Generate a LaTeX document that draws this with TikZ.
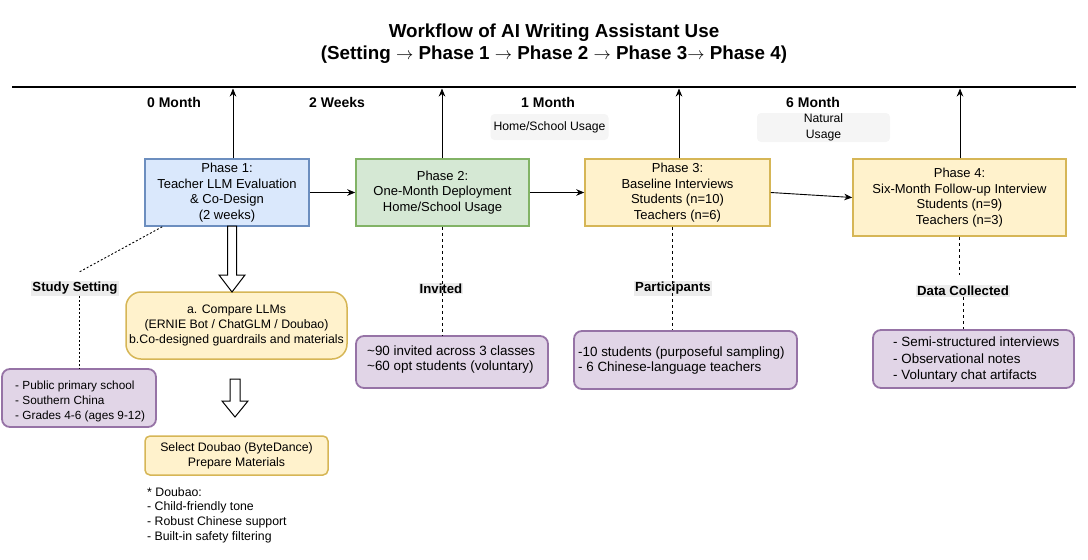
\documentclass[tikz,border=0pt]{standalone}
\usepackage{fontspec}
\setmainfont{Liberation Sans}
\usetikzlibrary{arrows.meta,calc}

\definecolor{bluef}{HTML}{DAE8FC}\definecolor{blued}{HTML}{6C8EBF}
\definecolor{greenf}{HTML}{D5E8D4}\definecolor{greend}{HTML}{82B366}
\definecolor{yelf}{HTML}{FFF2CC}\definecolor{yeld}{HTML}{D6B656}
\definecolor{purf}{HTML}{E1D5E7}\definecolor{purd}{HTML}{9673A6}
\definecolor{greyf}{HTML}{F5F5F5}\definecolor{lblf}{HTML}{ECECEC}

\newcommand\fs[2]{\fontsize{#1}{#2}\selectfont}
\newcommand\ra{\ensuremath{\rightarrow}}

\begin{document}
\begin{tikzpicture}[x=1pt,y=-1pt,
  phase/.style={draw, line width=1.5pt, inner sep=0pt, align=center, font=\fs{13}{15.5}},
  ybox/.style={draw=yeld, fill=yelf, line width=1.5pt, inner sep=0pt, align=center, font=\fs{12.3}{14.7}},
  pbox/.style={draw=purd, fill=purf, line width=1.8pt, rounded corners=8pt, inner sep=0pt},
  ptext/.style={anchor=west, inner sep=0pt, align=left, font=\fs{11.8}{15}},
  bigtext/.style={anchor=west, inner sep=0pt, align=left, font=\fs{13.4}{15.5}},
  tlabel/.style={inner sep=0pt, font=\fs{14}{16}\bfseries},
  glabel/.style={fill=greyf, rounded corners=4pt, inner sep=0pt, align=center, font=\fs{12.2}{15.5}},
  blabel/.style={fill=lblf, inner sep=1pt, font=\fs{13.2}{15}\bfseries},
  arr/.style={line width=0.9pt, -{Stealth[length=8pt,width=6.5pt,inset=2.5pt]}},
  dashline/.style={line width=0.9pt, dash pattern=on 3pt off 3pt},
  dotline/.style={line width=0.9pt, dash pattern=on 2pt off 2pt},
  hollow/.style={draw, fill=white, line width=1pt, line join=miter},
]
\useasboundingbox (0,0) rectangle (1088,560);

% title
\node[align=center, inner sep=0pt, font=\fs{18.8}{22}\bfseries] (title) at (554,44)
  {Workflow of AI Writing Assistant Use\\(Setting \ra{} Phase 1 \ra{} Phase 2 \ra{} Phase 3\ra{} Phase 4)};

% timeline
\coordinate (tlA) at (12,87);
\coordinate (tlB) at (1076,87);
\draw[line width=2pt] (tlA) -- (tlB);

% time labels
\node[tlabel] (m0) at (174,102) {0 Month};
\node[tlabel] (w2) at (337,102) {2 Weeks};
\node[tlabel] (m1) at (548,102) {1 Month};
\node[tlabel] (m6) at (813,102) {6 Month};

\node[glabel, minimum width=118pt, minimum height=26pt] (hs) at (549.5,127) {Home/School Usage};
\node[glabel, minimum width=133pt, minimum height=29pt] (nu) at (823.5,127.5) {Natural\\Usage};

% phases
\node[phase, draw=blued, fill=bluef, minimum width=164pt, minimum height=67pt] (p1) at (227,192.5)
  {Phase 1:\\Teacher LLM Evaluation\\\& Co-Design\\(2 weeks)};
\node[phase, draw=greend, fill=greenf, minimum width=173pt, minimum height=67pt] (p2) at (442.5,192.5)
  {Phase 2:\\One-Month Deployment\\Home/School Usage};
\node[phase, draw=yeld, fill=yelf, minimum width=185pt, minimum height=67pt] (p3) at (677.5,192.5)
  {Phase 3:\\Baseline Interviews\\Students (n=10)\\Teachers (n=6)};
\node[phase, draw=yeld, fill=yelf, minimum width=213pt, minimum height=77pt] (p4) at (959.5,197.5)
  {Phase 4:\\Six-Month Follow-up Interview\\Students (n=9)\\Teachers (n=3)};

\draw[arr] (p1.east) -- (p2.west);
\draw[arr] (p2.east) -- (p3.west);
\draw[arr] (p3.east) -- (p4.west);

% up arrows to timeline
\coordinate (t1) at (233,88.5);
\coordinate (t2) at (442,88.5);
\coordinate (t3) at (679,88.5);
\coordinate (t4) at (960,88.5);
\draw[arr] (p1.north -| t1) -- (t1);
\draw[arr] (p2.north -| t2) -- (t2);
\draw[arr] (p3.north -| t3) -- (t3);
\draw[arr] (p4.north -| t4) -- (t4);

% Phase 1 branch
\node[ybox, rounded corners=15pt, minimum width=221pt, minimum height=67pt] (cmp) at (236.5,325.5)
  {a. Compare LLMs\\(ERNIE Bot / ChatGLM / Doubao)\\b.Co-designed guardrails and materials};
\node[ybox, rounded corners=5pt, minimum width=183pt, minimum height=39pt] (sel) at (236.5,455.5)
  {Select Doubao (ByteDance)\\Prepare Materials};
\node[ptext, font=\fs{12.3}{14.7}] (dou) at (147,515)
  {* Doubao:\\- Child-friendly tone\\- Robust Chinese support\\- Built-in safety filtering};

\coordinate (a1) at (232,226);
\draw[hollow] (a1) ++(-4.5,0) -- ++(0,49) -- ++(-8.5,0) -- ++(13,17) -- ++(13,-17) -- ++(-8.5,0) -- ++(0,-49) -- cycle;
\coordinate (a2) at (235,379);
\draw[hollow] (a2) ++(-5,0) -- ++(0,22) -- ++(-8,0) -- ++(13,16) -- ++(13,-16) -- ++(-8,0) -- ++(0,-22) -- cycle;

% study setting
\node[blabel] (ss) at (75,288.5) {Study Setting};
\node[pbox, minimum width=154pt, minimum height=58pt] (sb) at (79,398) {};
\node[ptext] (sbt) at (15,401) {- Public primary school\\- Southern China\\- Grades 4-6 (ages 9-12)};
\draw[dotline] ($(p1.south west)+(18,0)$) -- ($(ss.north)+(4,-9)$);
\draw[dotline] (ss.south -| sb.north) -- (sb.north);

% invited
\node[blabel] (inv) at (441,288.5) {Invited};
\node[pbox, minimum width=192pt, minimum height=52pt] (ib) at (452,362) {};
\node[bigtext] (ibt) at (367,359.5) {\textasciitilde 90 invited across 3 classes\\\textasciitilde 60 opt students (voluntary)};
\draw[dashline] (p2.south) -- (p2.south |- ib.north);

% participants
\node[blabel] (par) at (673,288.5) {Participants};
\node[pbox, minimum width=223pt, minimum height=58pt] (pb) at (685.5,360) {};
\node[bigtext] (pbt) at (578,360.5) {-10 students (purposeful sampling)\\- 6 Chinese-language teachers};
\coordinate (c3) at (672,0);
\draw[dashline] (p3.south -| c3) -- (pb.north -| c3);

% data collected
\node[blabel] (dc) at (963,291) {Data Collected};
\node[pbox, minimum width=201pt, minimum height=58pt] (db) at (973.5,359) {};
\node[bigtext, font=\fs{13.4}{16.5}] (dbt) at (893,360) {- Semi-structured interviews\\- Observational notes\\- Voluntary chat artifacts};
\draw[dashline] (p4.south) -- ($(p4.south)+(0,38)$);
\draw[dashline] (dc.south) -- (dc.south |- db.north);
\end{tikzpicture}
\end{document}
